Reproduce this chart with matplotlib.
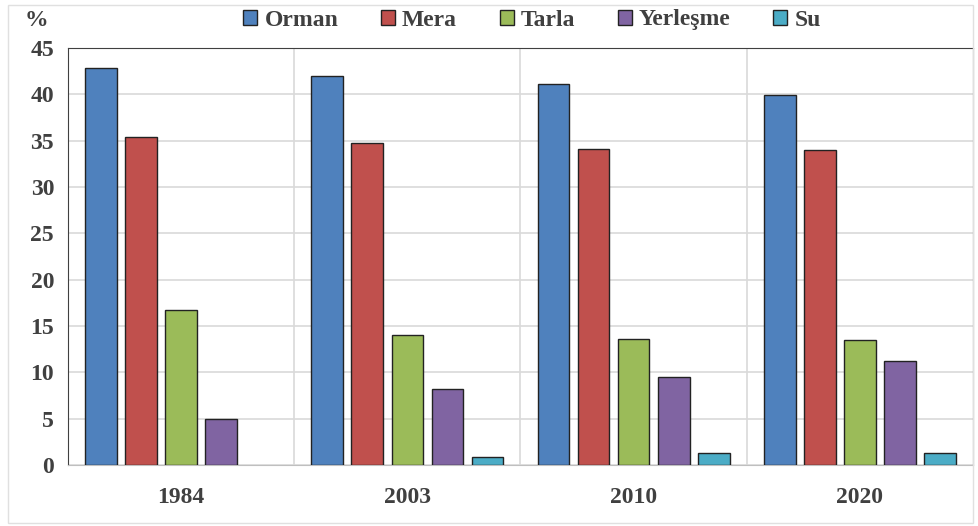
import matplotlib.pyplot as plt
import numpy as np
from matplotlib.patches import Rectangle

years = ["1984", "2003", "2010", "2020"]
classes = ["Orman", "Mera", "Tarla", "Yerleşme", "Su"]
orman = [42.8, 42.0, 41.1, 39.9]
mera = [35.4, 34.7, 34.1, 34.0]
tarla = [16.7, 14.0, 13.6, 13.5]
yerlesme = [5.0, 8.2, 9.5, 11.2]
su = [0.0, 0.9, 1.3, 1.3]
colors = ["#4f81bd", "#c0504d", "#9bbb59", "#8064a2", "#4bacc6"]

plt.rcParams["font.family"] = ["Liberation Serif", "DejaVu Serif"]
plt.rcParams["font.weight"] = "bold"

fig = plt.figure(figsize=(9.79, 5.26), dpi=100)
ax = fig.add_axes([68 / 979, 1 - 465 / 526, 905 / 979, 417 / 526])

x = np.arange(len(years))
pitch = 0.177
width = 0.14
series = [orman, mera, tarla, yerlesme, su]
all_bars = []
for i, (name, vals) in enumerate(zip(classes, series)):
    bars = ax.bar(x + (i - 2) * pitch, vals, width, color=colors[i], edgecolor="#222222",
                  linewidth=1.0, label=name, zorder=3)
    all_bars.append(bars)

ax.set_xlim(-0.5, len(years) - 0.5)
ax.set_ylim(0, 45)
ax.set_yticks(range(0, 46, 5))
ax.set_xticks(x)
ax.set_xticklabels(years)
for b in [0.5, 1.5, 2.5]:
    ax.axvline(b, color="#d9d9d9", lw=1.2, zorder=1)
ax.yaxis.grid(True, color="#d9d9d9", lw=1.2, zorder=1)
ax.tick_params(length=0, labelsize=17, colors="#404040", pad=10)
ax.tick_params(axis="x", pad=16)
for lab in ax.get_xticklabels() + ax.get_yticklabels():
    lab.set_fontweight("bold")
for s in ["left", "top", "right"]:
    ax.spines[s].set_color("#404040")
ax.spines["bottom"].set_color("#bfbfbf")

fig.text(25 / 979, 1 - 20 / 526, "%", fontsize=17, fontweight="bold",
         color="#404040", ha="left", va="center")
leg = fig.legend(loc="center", bbox_to_anchor=(532 / 979, 1 - 20 / 526), ncol=5,
                 frameon=False, fontsize=17, handlelength=0.6, handleheight=0.6,
                 handletextpad=0.3, columnspacing=1.8)
for t in leg.get_texts():
    t.set_color("#404040")
    t.set_fontweight("bold")

# hide outline of empty (zero) bars after the legend copied the style
for bars in all_bars:
    for b in bars:
        if b.get_height() == 0:
            b.set_linewidth(0)

fig.patches.append(Rectangle((8 / 979, 3 / 526), 965 / 979, 518 / 526,
                             transform=fig.transFigure, fill=False,
                             edgecolor="#e0e0e0", lw=1))

fig.savefig("out.png", dpi=100)
